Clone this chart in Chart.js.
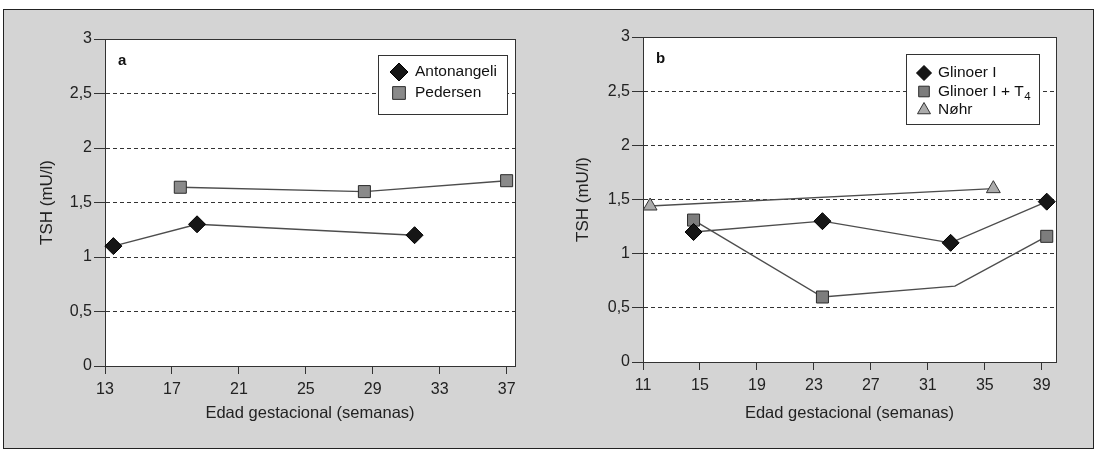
<!DOCTYPE html>
<html>
<head>
<meta charset="utf-8">
<script src="https://cdn.jsdelivr.net/npm/chart.js@4"></script>
<style>
  html, body { margin: 0; padding: 0; background: #fff; }
  #frame { position: absolute; left: 3px; top: 9px; width: 1089px; height: 438px; border: 1px solid #222; background: #d4d4d4; }
  canvas { position: absolute; top: 10px; }
  #chartA { left: 4px; }
  #chartB { left: 548px; }
</style>
</head>
<body>
<div id="frame"></div>
<canvas id="chartA" width="540" height="437"></canvas>
<canvas id="chartB" width="544" height="437"></canvas>
<script>
// ticks
const xTicksA = [13, 17, 21, 25, 29, 33, 37];
const xTicksB = [11, 15, 19, 23, 27, 31, 35, 39];
const yTickValues = [0, 0.5, 1, 1.5, 2, 2.5, 3];
const yTickLabels = ['0', '0,5', '1', '1,5', '2', '2,5', '3'];

// panel a
const antonangeliWeeks = [13.5, 18.5, 31.5];
const antonangeliTSH = [1.1, 1.3, 1.2];
const pedersenWeeks = [17.5, 28.5, 37];
const pedersenTSH = [1.64, 1.6, 1.7];

// panel b
const glinoerWeeks = [14.55, 23.6, 32.6, 39.35];
const glinoerTSH = [1.2, 1.3, 1.1, 1.48];
const glinoerT4Weeks = [14.55, 23.6, 32.9, 39.35];
const glinoerT4TSH = [1.31, 0.6, 0.7, 1.16];
const glinoerT4Marked = [true, true, false, true];
const nohrWeeks = [11.5, 35.6];
const nohrTSH = [1.44, 1.6];

Chart.defaults.font.family = '"Liberation Sans", Arial, sans-serif';
Chart.defaults.color = '#222';

const toPoints = (xs, ys) => xs.map((x, i) => ({ x: x, y: ys[i] }));

const lineStyle = { borderColor: '#4d4d4d', borderWidth: 1.4, tension: 0, clip: false, pointBorderWidth: 1 };

// white plot area, frame, panel letter and the inset legend
const panelDecor = {
    id: 'panelDecor',
    beforeDraw(chart) {
        const { ctx, chartArea: a } = chart;
        ctx.save();
        ctx.fillStyle = '#fff';
        ctx.fillRect(a.left, a.top, a.width, a.height);
        ctx.restore();
    },
    beforeDatasetsDraw(chart, args, opts) {
        const { ctx, chartArea: a } = chart;
        ctx.save();
        ctx.strokeStyle = '#333';
        ctx.lineWidth = 1;
        ctx.strokeRect(Math.round(a.left) + 0.5, Math.round(a.top) + 0.5, Math.round(a.width), Math.round(a.height));

        // legend box
        const bx = a.right - opts.boxRight - opts.boxWidth;
        const by = a.top + opts.boxTop;
        ctx.fillStyle = '#fff';
        ctx.fillRect(bx, by, opts.boxWidth, opts.boxHeight);
        ctx.strokeRect(Math.round(bx) + 0.5, Math.round(by) + 0.5, opts.boxWidth, opts.boxHeight);
        ctx.restore();
    },
    afterDraw(chart, args, opts) {
        const { ctx, chartArea: a } = chart;
        ctx.save();
        ctx.fillStyle = '#111';
        ctx.font = 'bold 15px "Liberation Sans", Arial, sans-serif';
        ctx.textBaseline = 'alphabetic';
        ctx.fillText(opts.letter, a.left + 13, a.top + 26);

        const bx = a.right - opts.boxRight - opts.boxWidth;
        const by = a.top + opts.boxTop;
        chart.data.datasets.forEach((ds, i) => {
            const y = by + opts.rowTop + i * opts.rowGap;
            ctx.fillStyle = ds.pointBackgroundColor;
            ctx.strokeStyle = ds.pointBorderColor;
            ctx.lineWidth = 1;
            Chart.helpers.drawPoint(ctx, {
                pointStyle: ds.pointStyle, rotation: 0,
                radius: opts.markerRadius, borderWidth: 1
            }, bx + opts.markerX, y);
            ctx.fillStyle = '#111';
            ctx.font = opts.fontSize + 'px "Liberation Sans", Arial, sans-serif';
            ctx.textBaseline = 'middle';
            ctx.fillText(ds.label, bx + opts.textX, y);
            if (ds.legendSub) {
                const w = ctx.measureText(ds.label).width;
                ctx.font = (opts.fontSize - 4) + 'px "Liberation Sans", Arial, sans-serif';
                ctx.fillText(ds.legendSub, bx + opts.textX + w + 0.5, y + 5);
            }
        });
        ctx.restore();
    }
};

function makeScales(xMin, xMax, xTicks, xAxisHeight, yAxisWidth, yTitlePad) {
    return {
        x: {
            type: 'linear', min: xMin, max: xMax,
            afterBuildTicks: s => { s.ticks = xTicks.map(v => ({ value: v })); },
            afterFit: s => { s.height = xAxisHeight; },
            ticks: { font: { size: 16 }, color: '#222', padding: 6, maxRotation: 0, autoSkip: false },
            grid: { drawOnChartArea: false, tickLength: 8, tickColor: '#333', tickWidth: 1 },
            border: { color: '#333', width: 1 },
            title: { display: true, text: 'Edad gestacional (semanas)', font: { size: 16.5 }, color: '#222', padding: { top: 0, bottom: 24 } }
        },
        y: {
            min: 0, max: 3,
            afterBuildTicks: s => { s.ticks = yTickValues.map(v => ({ value: v })); },
            afterFit: s => { s.width = yAxisWidth; },
            ticks: { font: { size: 16 }, color: '#222', padding: 2, callback: (v, i) => yTickLabels[i] },
            grid: {
                color: c => (c.tick && (c.tick.value === 0 || c.tick.value === 3)) ? 'rgba(0,0,0,0)' : '#333',
                lineWidth: 1, tickLength: 11, tickColor: '#333', tickWidth: 1
            },
            border: { color: '#333', width: 1, dash: [4, 3] },
            title: { display: true, text: 'TSH (mU/l)', font: { size: 17 }, color: '#222', padding: { top: yTitlePad, bottom: 0 } }
        }
    };
}

new Chart(document.getElementById('chartA'), {
    type: 'line',
    data: {
        datasets: [
            Object.assign({}, lineStyle, {
                label: 'Antonangeli', data: toPoints(antonangeliWeeks, antonangeliTSH),
                pointStyle: 'rectRot', pointRadius: 8.5, pointHoverRadius: 8.5,
                pointBackgroundColor: '#161616', pointBorderColor: '#000'
            }),
            Object.assign({}, lineStyle, {
                label: 'Pedersen', data: toPoints(pedersenWeeks, pedersenTSH),
                pointStyle: 'rect', pointRadius: 8.5, pointHoverRadius: 8.5,
                pointBackgroundColor: '#8a8a8a', pointBorderColor: '#2b2b2b'
            })
        ]
    },
    options: {
        responsive: false, animation: false,
        layout: { padding: { top: 29, right: 29, left: 0, bottom: 0 } },
        scales: makeScales(13, 37.5, xTicksA, 81, 101, 33),
        plugins: {
            legend: { display: false }, tooltip: { enabled: false },
            panelDecor: { letter: 'a', boxRight: 8, boxTop: 16, boxWidth: 129, boxHeight: 59,
                rowTop: 17, rowGap: 21, markerX: 21, textX: 37, markerRadius: 9, fontSize: 15.5 }
        }
    },
    plugins: [panelDecor]
});

new Chart(document.getElementById('chartB'), {
    type: 'line',
    data: {
        datasets: [
            Object.assign({}, lineStyle, {
                label: 'Glinoer I', data: toPoints(glinoerWeeks, glinoerTSH),
                pointStyle: 'rectRot', pointRadius: 8.5, pointHoverRadius: 8.5,
                pointBackgroundColor: '#161616', pointBorderColor: '#000'
            }),
            Object.assign({}, lineStyle, {
                label: 'Glinoer I + T', legendSub: '4', data: toPoints(glinoerT4Weeks, glinoerT4TSH),
                pointStyle: 'rect', pointRadius: glinoerT4Marked.map(m => m ? 8.5 : 0),
                pointBackgroundColor: '#7d7d7d', pointBorderColor: '#2b2b2b'
            }),
            Object.assign({}, lineStyle, {
                label: 'Nøhr', data: toPoints(nohrWeeks, nohrTSH),
                pointStyle: 'triangle', pointRadius: 8, pointHoverRadius: 8,
                pointBackgroundColor: '#ababab', pointBorderColor: '#333'
            })
        ]
    },
    options: {
        responsive: false, animation: false,
        layout: { padding: { top: 27, right: 36, left: 0, bottom: 0 } },
        scales: makeScales(11, 40, xTicksB, 85, 95, 25),
        plugins: {
            legend: { display: false }, tooltip: { enabled: false },
            panelDecor: { letter: 'b', boxRight: 17, boxTop: 17, boxWidth: 133, boxHeight: 70,
                rowTop: 19, rowGap: 18.5, markerX: 18, textX: 32, markerRadius: 7.5, fontSize: 15.5 }
        }
    },
    plugins: [panelDecor]
});
</script>
</body>
</html>
